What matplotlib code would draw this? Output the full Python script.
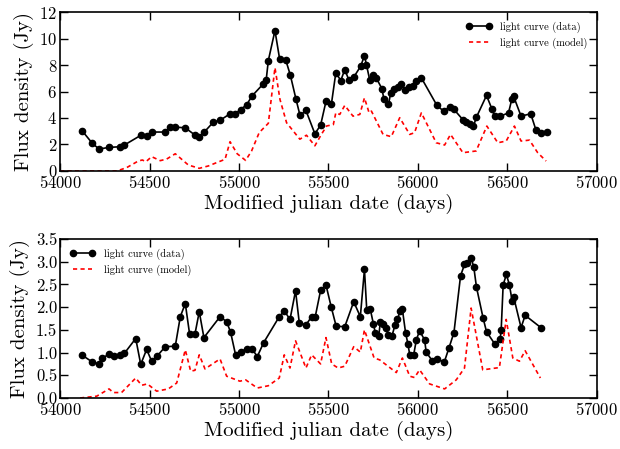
import matplotlib
matplotlib.use("Agg")
import matplotlib.pyplot as plt

plt.rcParams['font.family'] = 'serif'
plt.rcParams['font.serif'] = ['cmr10']
plt.rcParams['mathtext.fontset'] = 'cm'
plt.rcParams['axes.formatter.use_mathtext'] = True

# top panel: light curve data
mjd_top = [54125, 54181, 54218, 54274, 54335, 54356, 54451, 54484, 54512, 54588,
           54613, 54644, 54700, 54754, 54778, 54806, 54857, 54896, 54950, 54979,
           55009, 55043, 55072, 55134, 55152, 55164, 55201, 55227, 55261, 55287,
           55318, 55341, 55374, 55424, 55456, 55486, 55516, 55541, 55569, 55591,
           55613, 55641, 55680, 55701, 55712, 55730, 55749, 55768, 55799, 55810,
           55835, 55848, 55866, 55888, 55903, 55926, 55950, 55972, 55991, 56019,
           56106, 56143, 56179, 56201, 56253, 56270, 56288, 56310, 56327, 56383,
           56413, 56428, 56461, 56506, 56524, 56534, 56576, 56630, 56660, 56688,
           56719]
flux_top = [3.01, 2.08, 1.66, 1.78, 1.83, 1.93, 2.69, 2.61, 2.94, 2.94,
            3.29, 3.31, 3.26, 2.71, 2.59, 2.94, 3.69, 3.84, 4.32, 4.32,
            4.64, 5.00, 5.65, 6.55, 6.88, 8.34, 10.60, 8.46, 8.39, 7.23,
            5.45, 4.19, 4.57, 2.81, 3.46, 5.25, 5.02, 7.41, 6.83, 7.66,
            6.90, 7.08, 7.91, 8.71, 8.03, 6.90, 7.23, 7.00, 6.20, 5.40,
            5.02, 5.90, 6.20, 6.35, 6.53, 6.15, 6.33, 6.45, 6.78, 7.03,
            4.95, 4.52, 4.85, 4.65, 3.84, 3.69, 3.51, 3.39, 4.07, 5.70,
            4.69, 4.14, 4.14, 4.39, 5.40, 5.65, 4.14, 4.32, 3.06, 2.84,
            2.96]

# top panel: model
mjd_top_mod = [54000, 54317, 54372, 54437, 54460, 54480, 54512, 54560, 54596, 54644,
               54717, 54778, 54829, 54875, 54922, 54950, 54990, 55037, 55070, 55113,
               55164, 55201, 55229, 55266, 55340, 55377, 55424, 55462, 55490, 55527,
               55541, 55563, 55591, 55637, 55675, 55701, 55727, 55740, 55805, 55851,
               55898, 55954, 55981, 56019, 56102, 56149, 56182, 56251, 56325, 56385,
               56446, 56493, 56539, 56576, 56623, 56669, 56716]
flux_top_mod = [0.0, 0.0, 0.25, 0.75, 0.83, 0.70, 1.08, 0.78, 0.90, 1.30,
                0.45, 0.20, 0.38, 0.63, 0.88, 2.21, 1.30, 0.80, 1.50, 2.90,
                3.60, 7.80, 5.40, 3.64, 2.40, 2.70, 1.90, 2.80, 3.40, 3.50,
                4.39, 4.27, 4.95, 4.14, 4.27, 5.52, 4.39, 4.52, 2.76, 2.59,
                4.02, 2.76, 2.89, 4.39, 2.13, 1.96, 2.76, 1.38, 1.51, 3.39,
                2.13, 2.26, 3.39, 2.26, 2.33, 1.38, 0.75]

# bottom panel: light curve data
mjd_bot = [54125, 54181, 54218, 54236, 54274, 54302, 54335, 54359, 54423, 54451,
           54484, 54512, 54544, 54588, 54644, 54672, 54700, 54724, 54754, 54778,
           54804, 54894, 54931, 54953, 54981, 55009, 55043, 55074, 55102, 55138,
           55225, 55253, 55285, 55316, 55337, 55374, 55406, 55426, 55456, 55486,
           55515, 55543, 55591, 55641, 55678, 55701, 55714, 55734, 55751, 55762,
           55781, 55790, 55805, 55820, 55835, 55855, 55872, 55885, 55901, 55913,
           55931, 55944, 55954, 55976, 55991, 56009, 56037, 56046, 56080, 56108,
           56147, 56173, 56201, 56238, 56260, 56275, 56297, 56312, 56327, 56364,
           56383, 56429, 56459, 56465, 56476, 56494, 56511, 56526, 56535, 56576,
           56599, 56690]
flux_bot = [0.94, 0.79, 0.75, 0.87, 0.97, 0.93, 0.94, 0.98, 1.31, 0.74,
            1.07, 0.81, 0.93, 1.13, 1.14, 1.79, 2.08, 1.41, 1.41, 1.90,
            1.33, 1.79, 1.68, 1.45, 0.95, 1.02, 1.08, 1.08, 0.91, 1.22,
            1.79, 1.92, 1.73, 2.36, 1.65, 1.61, 1.79, 1.79, 2.37, 2.49,
            2.01, 1.58, 1.57, 2.12, 1.79, 2.83, 1.93, 1.95, 1.63, 1.43,
            1.37, 1.68, 1.63, 1.54, 1.39, 1.37, 1.61, 1.73, 1.92, 1.95,
            1.43, 1.19, 0.95, 0.95, 1.28, 1.48, 1.28, 1.01, 0.82, 0.86,
            0.79, 1.10, 1.44, 2.69, 2.94, 2.98, 3.09, 2.88, 2.44, 1.76,
            1.46, 1.19, 1.30, 1.50, 2.49, 2.72, 2.49, 2.14, 2.22, 1.55,
            1.82, 1.54]

# bottom panel: model
mjd_bot_mod = [54112, 54205, 54274, 54298, 54344, 54423, 54456, 54488, 54540, 54605,
               54652, 54700, 54730, 54754, 54778, 54810, 54894, 54931, 55005, 55037,
               55102, 55164, 55225, 55253, 55285, 55316, 55374, 55406, 55456, 55486,
               55518, 55554, 55591, 55641, 55678, 55701, 55755, 55786, 55879, 55913,
               55954, 55981, 56009, 56065, 56149, 56214, 56260, 56297, 56362, 56455,
               56493, 56530, 56567, 56599, 56684]
flux_bot_mod = [0.0, 0.04, 0.20, 0.12, 0.12, 0.44, 0.28, 0.31, 0.15, 0.20,
                0.33, 1.06, 0.59, 0.61, 0.95, 0.64, 0.86, 0.48, 0.37, 0.40,
                0.22, 0.27, 0.44, 0.95, 0.66, 1.26, 0.66, 0.95, 0.75, 1.33,
                0.75, 0.66, 0.70, 1.13, 1.01, 1.50, 0.88, 0.84, 0.56, 0.88,
                0.48, 0.45, 0.62, 0.31, 0.20, 0.40, 0.66, 1.98, 0.62, 0.67,
                1.73, 0.88, 0.81, 1.04, 0.44]

fig = plt.figure(figsize=(6.2, 4.49), dpi=100)
ax1 = fig.add_axes([0.0968, 0.6192, 0.866, 0.354])
ax2 = fig.add_axes([0.0968, 0.1136, 0.866, 0.354])

panels = [(ax1, mjd_top, flux_top, mjd_top_mod, flux_top_mod, 12, 'upper right'),
          (ax2, mjd_bot, flux_bot, mjd_bot_mod, flux_bot_mod, 3.5, 'upper left')]
for ax, x, y, xm, ym, ymax, loc in panels:
    ax.plot(x, y, 'k-o', lw=1.2, ms=4.5, label='light curve (data)')
    ax.plot(xm, ym, 'r--', lw=1.2, dashes=(2.5, 2), label='light curve (model)')
    ax.set_xlim(54000, 57000)
    ax.set_ylim(0, ymax)
    ax.set_xlabel('Modified julian date (days)', fontsize=15, labelpad=2.5)
    ax.set_ylabel('Flux density (Jy)', fontsize=15, labelpad=4)
    ax.tick_params(direction='in', top=True, right=True, length=6, width=1,
                   labelsize=12, pad=2)
    for s in ax.spines.values():
        s.set_linewidth(1.2)
    ax.legend(loc=loc, frameon=False, fontsize=7.5, numpoints=2,
              handlelength=2.5)

ax1.set_yticks([0, 2, 4, 6, 8, 10, 12])
ax2.set_yticks([0, 0.5, 1.0, 1.5, 2.0, 2.5, 3.0, 3.5])
ax2.set_yticklabels(['0.0', '0.5', '1.0', '1.5', '2.0', '2.5', '3.0', '3.5'])

fig.savefig('out.png', dpi=100)
